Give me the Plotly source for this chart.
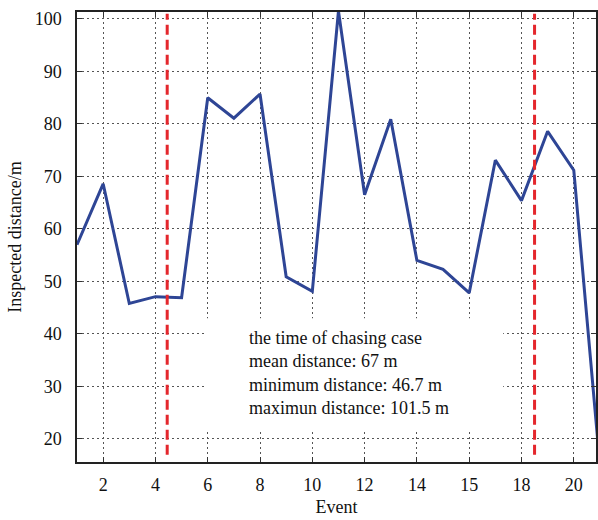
import plotly.graph_objects as go

events = list(range(1, 22))
distance = [57.0, 68.6, 45.8, 47.1, 46.9, 85.0, 81.1, 85.7, 50.9, 48.1,
            101.5, 66.5, 80.9, 54.0, 52.3, 47.8, 73.1, 65.4, 78.6, 71.2, 15.0]
tick_vals = [2, 4, 6, 8, 10, 12, 14, 16, 18, 20]
tick_text = ["2", "4", "6", "8", "10", "12", "14", "15", "18", "20"]
y_ticks = [20, 30, 40, 50, 60, 70, 80, 90, 100]
chase_bounds = [4.45, 18.5]
note_lines = ["the time of chasing case", "mean distance: 67 m",
              "minimum distance: 46.7 m", "maximun distance: 101.5 m"]

FONT = "Liberation Serif"

fig = go.Figure()
fig.add_trace(go.Scatter(x=events, y=distance, mode="lines",
                         line=dict(color="#2E4595", width=3),
                         showlegend=False))

for xb in chase_bounds:
    fig.add_shape(type="line", x0=xb, x1=xb, y0=17, y1=101, xref="x", yref="y",
                  line=dict(color="#E4262C", width=3, dash="10px,5px"))

# white box behind the note (hides the grid)
fig.add_shape(type="rect", x0=5.9, x1=17.3, y0=21.5, y1=43, xref="x", yref="y",
              fillcolor="white", line=dict(width=0), layer="between")

fig.add_annotation(x=7.5, y=41.6, xref="x", yref="y", xanchor="left", yanchor="top",
                   align="left", showarrow=False, text="<br>".join(note_lines),
                   font=dict(family=FONT, size=18, color="#111"))

axis_common = dict(showline=True, linecolor="#222", linewidth=1.5, mirror="ticks",
                   ticks="inside", ticklen=5, tickcolor="#333", showgrid=True,
                   gridcolor="#555", griddash="1.5px,3.5px", gridwidth=1.2, zeroline=False,
                   tickfont=dict(family=FONT, size=18, color="#111"))

fig.update_xaxes(range=[1, 20.85], tickvals=tick_vals, ticktext=tick_text,
                 title=dict(text="Event", font=dict(family=FONT, size=18, color="#111"),
                            standoff=6),
                 ticklabelstandoff=6, **axis_common)
fig.update_yaxes(range=[15.6, 101.33], tickvals=y_ticks,
                 title=dict(text="Inspected distance/m",
                            font=dict(family=FONT, size=18, color="#111"), standoff=8),
                 ticklabelstandoff=10, **axis_common)

fig.update_layout(width=598, height=520, margin=dict(l=77, r=0, t=12, b=58),
                  paper_bgcolor="white", plot_bgcolor="white",
                  font=dict(family=FONT))

fig.write_html("out.html")
